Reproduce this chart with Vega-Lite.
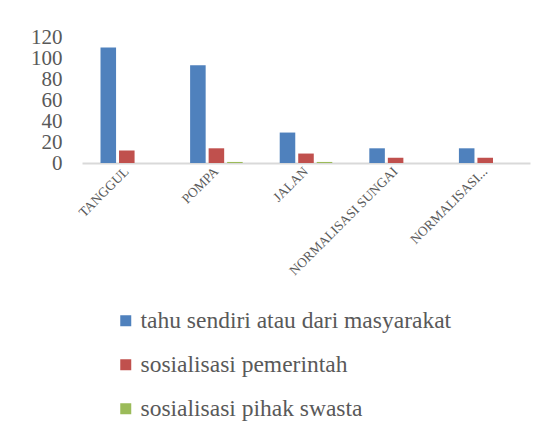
{
  "$schema": "https://vega.github.io/schema/vega-lite/v6.json",
  "autosize": "none",
  "width": 448,
  "height": 126,
  "padding": {"left": 82, "top": 37, "right": 23, "bottom": 273},
  "background": "white",
  "data": {
    "values": [
      {"kategori": "TANGGUL", "sumber": "tahu sendiri atau dari masyarakat", "nilai": 110},
      {"kategori": "TANGGUL", "sumber": "sosialisasi pemerintah", "nilai": 12},
      {"kategori": "TANGGUL", "sumber": "sosialisasi pihak swasta", "nilai": 0},
      {"kategori": "POMPA", "sumber": "tahu sendiri atau dari masyarakat", "nilai": 93},
      {"kategori": "POMPA", "sumber": "sosialisasi pemerintah", "nilai": 14},
      {"kategori": "POMPA", "sumber": "sosialisasi pihak swasta", "nilai": 1},
      {"kategori": "JALAN", "sumber": "tahu sendiri atau dari masyarakat", "nilai": 29},
      {"kategori": "JALAN", "sumber": "sosialisasi pemerintah", "nilai": 9},
      {"kategori": "JALAN", "sumber": "sosialisasi pihak swasta", "nilai": 1},
      {"kategori": "NORMALISASI SUNGAI", "sumber": "tahu sendiri atau dari masyarakat", "nilai": 14},
      {"kategori": "NORMALISASI SUNGAI", "sumber": "sosialisasi pemerintah", "nilai": 5},
      {"kategori": "NORMALISASI SUNGAI", "sumber": "sosialisasi pihak swasta", "nilai": 0},
      {"kategori": "NORMALISASI...", "sumber": "tahu sendiri atau dari masyarakat", "nilai": 14},
      {"kategori": "NORMALISASI...", "sumber": "sosialisasi pemerintah", "nilai": 5},
      {"kategori": "NORMALISASI...", "sumber": "sosialisasi pihak swasta", "nilai": 0}
    ]
  },
  "mark": {"type": "bar"},
  "encoding": {
    "x": {
      "field": "kategori",
      "type": "nominal",
      "sort": null,
      "scale": {"paddingInner": 0, "paddingOuter": 0},
      "axis": {
        "title": null,
        "labelAngle": -45,
        "labelAlign": "right",
        "labelBaseline": "middle",
        "labelFont": "Liberation Serif",
        "labelFontSize": 13.5,
        "labelColor": "#595959",
        "labelPadding": 6,
        "ticks": false,
        "domainColor": "#D9D9D9",
        "domainWidth": 2,
        "labelLimit": 300
      }
    },
    "xOffset": {
      "field": "sumber",
      "type": "nominal",
      "sort": ["tahu sendiri atau dari masyarakat", "sosialisasi pemerintah", "sosialisasi pihak swasta"],
      "scale": {"paddingInner": 0.16, "paddingOuter": 1.0}
    },
    "y": {
      "field": "nilai",
      "type": "quantitative",
      "scale": {"domain": [0, 120], "nice": false},
      "axis": {
        "title": null,
        "values": [0, 20, 40, 60, 80, 100, 120],
        "labelOverlap": false,
        "labelFlush": false,
        "grid": false,
        "domain": false,
        "ticks": false,
        "labelFont": "Liberation Serif",
        "labelFontSize": 21,
        "labelColor": "#595959",
        "labelPadding": 20
      }
    },
    "color": {
      "field": "sumber",
      "type": "nominal",
      "sort": ["tahu sendiri atau dari masyarakat", "sosialisasi pemerintah", "sosialisasi pihak swasta"],
      "scale": {
        "domain": ["tahu sendiri atau dari masyarakat", "sosialisasi pemerintah", "sosialisasi pihak swasta"],
        "range": ["#4F81BD", "#C0504D", "#9BBB59"]
      },
      "legend": {
        "title": null,
        "orient": "none",
        "legendX": 32,
        "legendY": 272,
        "direction": "vertical",
        "symbolType": "square",
        "symbolSize": 121,
        "symbolStrokeWidth": 0,
        "labelFont": "Liberation Serif",
        "labelFontSize": 23.5,
        "labelColor": "#595959",
        "labelOffset": 3,
        "labelLimit": 400,
        "rowPadding": 19
      }
    }
  },
  "config": {
    "view": {"stroke": null},
    "font": "Liberation Serif"
  }
}
